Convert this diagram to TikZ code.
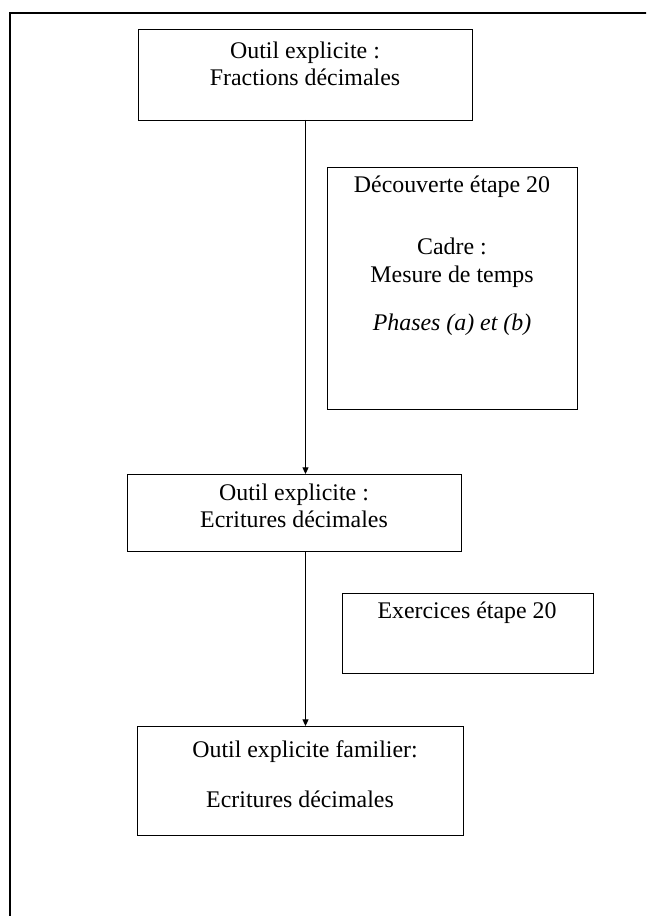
\documentclass[tikz,border=0pt]{standalone}
\usepackage{fontspec}
\setmainfont{Liberation Serif}
\usetikzlibrary{arrows.meta}
\begin{document}
\begin{tikzpicture}[x=0.75pt,y=-0.75pt,
  box/.style={draw, line width=0.75pt, rectangle, inner sep=0pt, anchor=north west},
  txt/.style={anchor=base, inner sep=0pt, font=\fontsize{17.9}{20}\selectfont},
  itxt/.style={txt, font=\fontsize{17.9}{20}\selectfont\itshape},
  arr/.style={line width=0.75pt, -{Triangle[width=4.5pt,length=5pt]}}]
\useasboundingbox (0,0) rectangle (646,916);
\clip (0,0) rectangle (646,916);
\fill[white] (0,0) rectangle (646,916);
\draw[line width=1.6pt] (10,13) rectangle (670,940);
% boxes
\node[box, minimum width=250.5pt, minimum height=68.25pt] (A) at (138,29) {};
\node[box, minimum width=187.5pt, minimum height=181.5pt] (D) at (327,167) {};
\node[box, minimum width=250.5pt, minimum height=57.75pt] (B) at (127,474) {};
\node[box, minimum width=188.25pt, minimum height=60pt] (E) at (342,593) {};
\node[box, minimum width=244.5pt, minimum height=81.75pt] (C) at (137,726) {};
% texts
\node[txt] (a1) at (305,59) {Outil explicite :};
\node[txt] (a2) at (305,86) {Fractions décimales};
\node[txt] (d1) at (452,193) {Découverte étape 20};
\node[txt] (d2) at (452,254) {Cadre :};
\node[txt] (d3) at (452,282) {Mesure de temps};
\node[itxt] (d4) at (452,330) {Phases (a) et (b)};
\node[txt] (b1) at (294,500) {Outil explicite :};
\node[txt] (b2) at (294,527) {Ecritures décimales};
\node[txt] (e1) at (467,618) {Exercices étape 20};
\node[txt] (c1) at (305,757) {Outil explicite familier:};
\node[txt] (c2) at (300,807) {Ecritures décimales};
% arrows
\coordinate (a0) at (305.5,120);
\coordinate (b0) at (305.5,474);
\coordinate (b3) at (305.5,551);
\coordinate (c0) at (305.5,726);
\draw[arr] (a0) -- (b0);
\draw[arr] (b3) -- (c0);
\end{tikzpicture}
\end{document}
